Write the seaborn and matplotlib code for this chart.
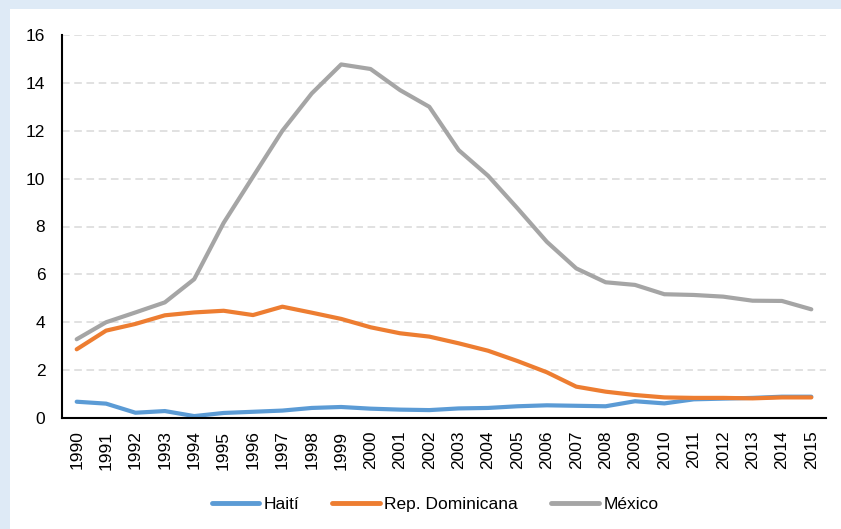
import pandas as pd
import matplotlib
matplotlib.use('Agg')
import matplotlib.pyplot as plt
import seaborn as sns
from matplotlib.patches import Rectangle

sns.set_style("white")
plt.rcParams['font.family'] = ['Liberation Sans', 'DejaVu Sans']

# Data
years = list(range(1990, 2016))
haiti = [0.68, 0.60, 0.22, 0.29, 0.08, 0.21, 0.26, 0.31, 0.42, 0.46, 0.39, 0.35, 0.33,
         0.40, 0.42, 0.49, 0.53, 0.51, 0.49, 0.70, 0.61, 0.78, 0.81, 0.84, 0.89, 0.89]
rep_dom = [2.87, 3.65, 3.93, 4.29, 4.41, 4.48, 4.30, 4.65, 4.40, 4.14, 3.79, 3.54, 3.40,
           3.12, 2.81, 2.38, 1.91, 1.31, 1.10, 0.96, 0.86, 0.84, 0.84, 0.82, 0.86, 0.86]
mexico = [3.29, 4.00, 4.41, 4.83, 5.80, 8.15, 10.08, 12.00, 13.56, 14.77, 14.58, 13.70, 13.00,
          11.19, 10.12, 8.76, 7.36, 6.25, 5.67, 5.56, 5.17, 5.14, 5.07, 4.90, 4.89, 4.54]
series_names = ['Haití', 'Rep. Dominicana', 'México']
colors = ['#5B9BD5', '#ED7D31', '#A5A5A5']

df = pd.DataFrame({
    'year': years * 3,
    'value': haiti + rep_dom + mexico,
    'serie': [s for s in series_names for _ in years],
})

W, H = 841, 529
fig = plt.figure(figsize=(W / 100, H / 100), dpi=100)
fig.patch.set_facecolor('#DEEAF6')
# white inner panel
fig.patches.append(Rectangle((10 / W, 0), 1 - 10 / W, 1 - 9 / H, transform=fig.transFigure,
                             facecolor='white', edgecolor='none', zorder=-5))

ax = fig.add_axes([62 / W, 1 - 418 / H, (826 - 62) / W, (418 - 35) / H])
ax.set_facecolor('none')

sns.lineplot(data=df, x='year', y='value', hue='serie', hue_order=series_names,
             palette=colors, linewidth=3, ax=ax, legend=False)

ax.set_xlim(1989.5, 2015.5)
ax.set_ylim(0, 16)
ax.set_yticks(range(0, 17, 2))
ax.set_xticks(years)
ax.set_xticklabels([str(y) for y in years], rotation=90)
ax.tick_params(axis='y', length=0, pad=12, labelsize=12.5, labelcolor='black')
ax.tick_params(axis='x', length=0, pad=9, labelsize=12.5, labelcolor='black')
ax.set_xlabel('')
ax.set_ylabel('')
ax.yaxis.grid(True, color='#D9D9D9', linestyle=(0, (5, 3)), linewidth=1.1)
ax.set_axisbelow(True)

for s in ['top', 'right']:
    ax.spines[s].set_visible(False)
for s in ['left', 'bottom']:
    ax.spines[s].set_color('black')
    ax.spines[s].set_linewidth(1.5)

handles = [plt.Line2D([], [], color=c, linewidth=3.5) for c in colors]
fig.legend(handles, series_names, loc='center', bbox_to_anchor=(435 / W, 1 - 504 / H),
           ncol=3, frameon=False, fontsize=12.5, handlelength=2.75, handletextpad=0.25,
           columnspacing=1.9, labelcolor='black')

fig.savefig('out.png', dpi=100, facecolor=fig.get_facecolor())
